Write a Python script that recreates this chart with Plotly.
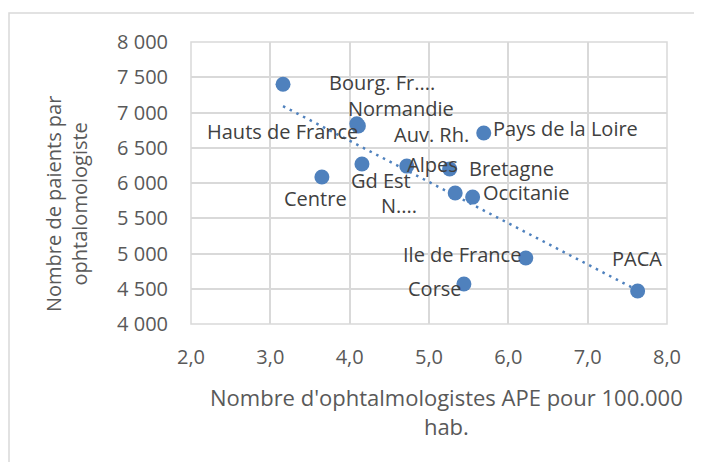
import numpy as np
import plotly.graph_objects as go

# ---- data ----
regions = ["Bourg. Fr....", "Normandie", "Hauts de France", "Gd Est", "Centre",
           "Auv. Rh.<br>Alpes", "Bretagne", "N....", "Occitanie", "Pays de la Loire",
           "Ile de France", "Corse", "PACA"]
ophtalmo_per_100k = [3.16, 4.09, 4.11, 4.155, 3.65, 4.72, 5.26, 5.33, 5.55, 5.69, 6.22, 5.44, 7.63]
patients_per_ophtalmo = [7400, 6840, 6810, 6270, 6085, 6240, 6200, 5858, 5800, 6709, 4936, 4567, 4468]
x_ticks = [2.0, 3.0, 4.0, 5.0, 6.0, 7.0, 8.0]
y_ticks = [4000, 4500, 5000, 5500, 6000, 6500, 7000, 7500, 8000]

# ---- styling / label placement (pixel offsets of label centre from its point) ----
BLUE = "#4F81BD"
FONT = "Open Sans"
label_offsets = {
    "Bourg. Fr....": [(99, -2)],
    "Normandie": [(44, -15)],
    "Hauts de France": [(-76, 6)],
    "Gd Est": [(19, 17)],
    "Centre": [(-6, 21)],
    "Auv. Rh.<br>Alpes": [(25, -32), (26, -2)],
    "Bretagne": [(62, 0)],
    "N....": [(-56, 12)],
    "Occitanie": [(54, -5)],
    "Pays de la Loire": [(82, -5)],
    "Ile de France": [(-64, -4)],
    "Corse": [(-29, 4)],
    "PACA": [(-1, -33)],
}

OFF = 8  # page body margin of the html output
W, H = 702 - 2 * OFF, 470 - 2 * OFF
PL, PR, PT, PB = 191, 667, 42, 324  # plot area in page pixels
L, R, T, B = PL - OFF, W + OFF - PR, PT - OFF, H + OFF - PB
pw, ph = W - L - R, H - T - B


def px(xp):  # page x pixel -> paper
    return (xp - PL) / pw


def py(yp):  # page y pixel -> paper
    return (PB - yp) / ph


fig = go.Figure()

# trend line (least squares, as Excel linear trendline)
slope, intercept = np.polyfit(ophtalmo_per_100k, patients_per_ophtalmo, 1)
xs = np.array([min(ophtalmo_per_100k), max(ophtalmo_per_100k)])
fig.add_trace(go.Scatter(x=xs, y=slope * xs + intercept, mode="lines",
                         line=dict(color=BLUE, width=2.5, dash="2.5px,5px"),
                         hoverinfo="skip", showlegend=False))

fig.add_trace(go.Scatter(x=ophtalmo_per_100k, y=patients_per_ophtalmo, mode="markers",
                         marker=dict(color=BLUE, size=15, line=dict(width=0)),
                         text=regions, showlegend=False))

annotations = []
for name, xv, yv in zip(regions, ophtalmo_per_100k, patients_per_ophtalmo):
    lines = name.split("<br>")
    for line, (dx, dy) in zip(lines, label_offsets[name]):
        annotations.append(dict(x=xv, y=yv, xref="x", yref="y", text=line,
                                showarrow=True, arrowcolor="rgba(0,0,0,0)",
                                ax=dx, ay=dy, xanchor="center", yanchor="middle",
                                font=dict(family=FONT, size=20, color="#404040")))

# axis titles
annotations.append(dict(text="Nombre d'ophtalmologistes APE pour 100.000<br>hab.",
                        xref="paper", yref="paper", x=px(446), y=py(411),
                        showarrow=False, xanchor="center", yanchor="middle", align="center",
                        font=dict(family=FONT, size=22, color="#595959")))
annotations.append(dict(text="Nombre de paients par<br>ophtalomologiste",
                        xref="paper", yref="paper", x=px(66), y=py(204),
                        showarrow=False, xanchor="center", yanchor="middle", align="center",
                        textangle=-90,
                        font=dict(family=FONT, size=20, color="#595959")))

shapes = [
    # plot area frame
    dict(type="rect", xref="paper", yref="paper", x0=0, y0=0, x1=1, y1=1,
         line=dict(color="#D9D9D9", width=1.5), layer="below"),
    # chart outer frame
    dict(type="rect", xref="paper", yref="paper",
         x0=px(9), x1=px(720), y0=py(490), y1=py(13),
         line=dict(color="#D9D9D9", width=1.5), layer="below"),
]

fig.update_layout(
    width=W, height=H,
    margin=dict(l=L, r=R, t=T, b=B, pad=0),
    paper_bgcolor="white", plot_bgcolor="white",
    separators=", ",
    font=dict(family=FONT, size=20, color="#595959"),
    annotations=annotations, shapes=shapes,
    showlegend=False,
)
fig.update_xaxes(range=[2, 8], tickvals=x_ticks, tickformat=".1f",
                 showgrid=True, gridcolor="#D9D9D9", gridwidth=1.5,
                 zeroline=False, showline=False, ticks="",
                 ticklabelstandoff=19,
                 tickfont=dict(family=FONT, size=20, color="#595959"))
fig.update_yaxes(range=[4000, 8000], tickvals=y_ticks, tickformat=",d",
                 showgrid=True, gridcolor="#D9D9D9", gridwidth=1.5,
                 zeroline=False, showline=False, ticks="",
                 ticklabelstandoff=22,
                 tickfont=dict(family=FONT, size=20, color="#595959"))

fig.write_html("out.html", config={"displayModeBar": False})
